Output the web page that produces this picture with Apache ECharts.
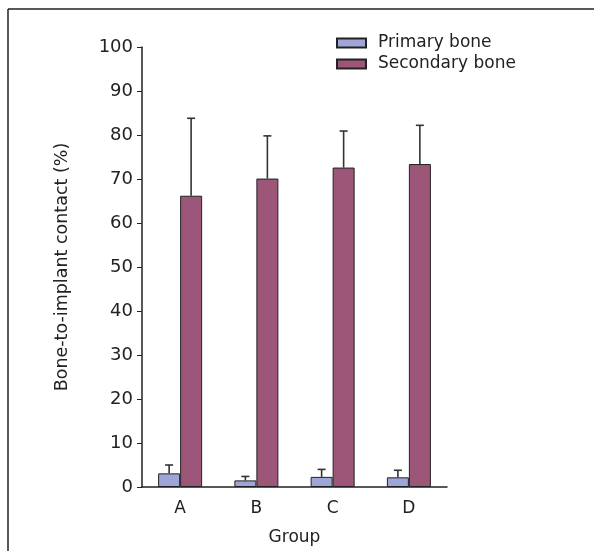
<!DOCTYPE html>
<html>
<head>
<meta charset="utf-8">
<script src="https://cdn.jsdelivr.net/npm/echarts@6/dist/echarts.min.js"></script>
<style>
    html, body { margin: 0; padding: 0; background: #fff; }
    #chart { width: 594px; height: 551px; }
</style>
</head>
<body>
<div id="chart"></div>
<script>
// Données
const groups = ["A", "B", "C", "D"];
const primaryMeans = [3.1, 1.5, 2.3, 2.2];
const primaryErrTops = [5.0, 2.4, 4.0, 3.8];
const secondaryMeans = [66.2, 70.1, 72.6, 73.4];
const secondaryErrTops = [83.8, 79.8, 80.9, 82.2];
const yTicks = [0, 10, 20, 30, 40, 50, 60, 70, 80, 90, 100];

const BAR_W = 22;
const FONT = "DejaVu Sans";

// Barres d'erreur (uniquement vers le haut), décalées de la moitié d'une barre
function errorSeries(name, tops, means, offset)
{
    return {
        type: "custom",
        name: name + "_err",
        z: 1,
        data: groups.map((g, i) => [i, means[i], tops[i]]),
        renderItem: (params, api) =>
        {
            const base = api.coord([api.value(0), api.value(1)]);
            const top = api.coord([api.value(0), api.value(2)]);
            const x = base[0] + offset;
            const style = { stroke: "#333", lineWidth: 1.6 };
            return {
                type: "group",
                children: [
                    { type: "line", shape: { x1: x, y1: base[1], x2: x, y2: top[1] }, style },
                    { type: "line", shape: { x1: x - 4, y1: top[1], x2: x + 4, y2: top[1] }, style }
                ]
            };
        }
    };
}

const chart = echarts.init(document.getElementById("chart"));

chart.setOption({
    animation: false,
    textStyle: { fontFamily: FONT },
    graphic: [
        // Cadre (bords haut et gauche seulement)
        { type: "line", shape: { x1: 8, y1: 9, x2: 594, y2: 9 }, style: { stroke: "#222", lineWidth: 1.5 } },
        { type: "line", shape: { x1: 8, y1: 9, x2: 8, y2: 551 }, style: { stroke: "#222", lineWidth: 1.5 } }
    ],
    legend: {
        data: ["Primary bone", "Secondary bone"],
        orient: "vertical",
        left: 331,
        top: 29,
        itemWidth: 29,
        itemHeight: 9,
        itemGap: 3,
        icon: "rect",
        textStyle: { fontSize: 17, lineHeight: 18, color: "#222", fontFamily: FONT, padding: [0, 0, 0, 7] }
    },
    grid: { left: 142, right: 147, top: 47, bottom: 62 },
    xAxis: {
        type: "category",
        data: groups,
        name: "Group",
        nameLocation: "middle",
        nameGap: 42,
        nameTextStyle: { fontSize: 17, color: "#222" },
        axisLine: { lineStyle: { color: "#222", width: 1.5 } },
        axisTick: { length: 5, lineStyle: { color: "#222" } },
        axisLabel: { fontSize: 17, color: "#222", margin: 13 }
    },
    yAxis: {
        type: "value",
        min: yTicks[0],
        max: yTicks[yTicks.length - 1],
        interval: 10,
        name: "Bone-to-implant contact (%)",
        nameLocation: "middle",
        nameGap: 71,
        nameTextStyle: { fontSize: 17.5, color: "#222" },
        splitLine: { show: false },
        axisLine: { show: true, lineStyle: { color: "#222", width: 1.5 } },
        axisTick: { show: true, length: 5, lineStyle: { color: "#222" } },
        axisLabel: { fontSize: 18, color: "#222", margin: 9 }
    },
    series: [
        {
            name: "Primary bone",
            type: "bar",
            data: primaryMeans,
            barWidth: BAR_W,
            barGap: "0%",
            z: 2,
            itemStyle: { color: "#9EA5D7", borderColor: "#222", borderWidth: 1 }
        },
        {
            name: "Secondary bone",
            type: "bar",
            data: secondaryMeans,
            barWidth: BAR_W,
            barGap: "0%",
            z: 2,
            itemStyle: { color: "#9C5677", borderColor: "#222", borderWidth: 1 }
        },
        errorSeries("Primary bone", primaryErrTops, primaryMeans, -BAR_W / 2),
        errorSeries("Secondary bone", secondaryErrTops, secondaryMeans, BAR_W / 2)
    ]
});
</script>
</body>
</html>
